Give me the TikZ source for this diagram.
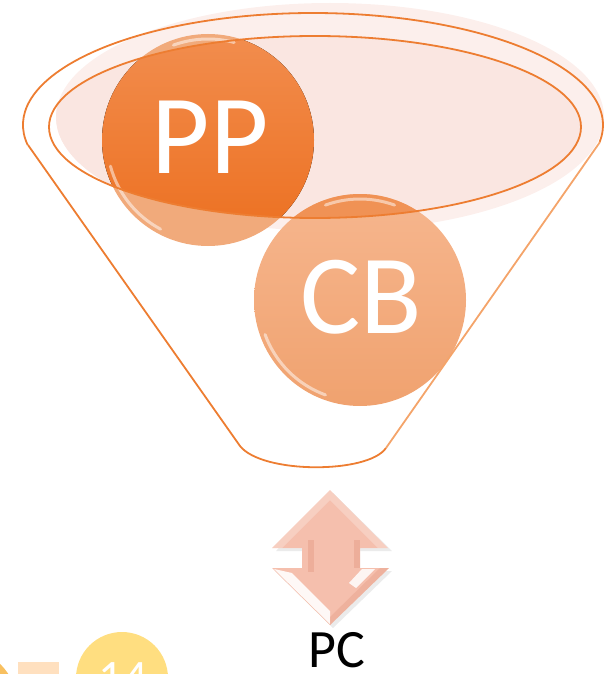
\documentclass[tikz,border=0pt]{standalone}
\usepackage{fontspec}
\setmainfont{Carlito}
\definecolor{funnel}{HTML}{ED7D31}
\definecolor{funnelLight}{HTML}{F4A46A}
\definecolor{pinkband}{HTML}{FCEFEC}
\definecolor{pinkin}{HTML}{FAE6E1}
\definecolor{ppTop}{HTML}{F28D4E}
\definecolor{ppBot}{HTML}{EC6F1F}
\definecolor{ppLight}{HTML}{F1AA7B}
\definecolor{cbTop}{HTML}{F6B68E}
\definecolor{cbBot}{HTML}{F0A26F}
\definecolor{cbIn}{HTML}{F09255}
\definecolor{arrowMain}{HTML}{F5BFAD}
\definecolor{arrowDark}{HTML}{E9A48E}
\definecolor{yel}{HTML}{FFDE80}
\definecolor{peach}{HTML}{FFE0BF}
\definecolor{gold}{HTML}{F8C060}
\begin{document}
\begin{tikzpicture}[x=1pt,y=-1pt,
  rim/.style={draw=funnel, line width=1.8pt, line join=round},
  ball/.style={circle, minimum size=212pt, inner sep=0pt},
  glint/.style={draw=white, line width=3pt, opacity=0.5, line cap=round},
  bigtext/.style={anchor=base, text=white, font=\fontsize{113}{113}\selectfont},
  midtext/.style={anchor=base, font=\fontsize{54}{54}\selectfont}]
\useasboundingbox (0,0) rectangle (606,674);

% pink glass of the funnel mouth
\fill[pinkband] (330,117) ellipse [x radius=274, y radius=114];
\begin{scope}
  \clip (315,127) ellipse [x radius=266, y radius=91];
  \fill[pinkin] (330,117) ellipse [x radius=274, y radius=114];
\end{scope}

% balls (parts seen through the funnel wall)
\node[ball, fill=ppLight] (pp) at (208,140) {};
\node[ball, top color=cbTop, bottom color=cbBot] (cb) at (360,300) {};

% balls (parts seen through the mouth)
\begin{scope}
  \clip (315,127) ellipse [x radius=266, y radius=91];
  \fill[top color=ppTop, bottom color=ppBot] (pp.center) circle[radius=106];
  \fill[cbIn] (cb.center) circle[radius=106];
\end{scope}

% glints
\draw[glint] (208,140) ++(118:101) arc[start angle=118, end angle=165, radius=101];
\draw[glint] (208,140) ++(250:101) arc[start angle=250, end angle=285, radius=101];
\draw[glint] (360,300) ++(110:101) arc[start angle=110, end angle=160, radius=101];
\draw[glint] (360,300) ++(250:101) arc[start angle=250, end angle=290, radius=101];

% funnel outline
\draw[rim] (313,125) ++(169.7:290 and 112) arc[start angle=169.7, end angle=368.7, x radius=290, y radius=112];
\draw[rim] (28,145) -- (240,446) .. controls (262,474) and (368,474) .. (386,448);
\draw[rim, draw=funnelLight] (386,448) -- (600,142);
\draw[rim] (315,127) ellipse [x radius=266, y radius=91];

% labels
\node[bigtext] (pptext) at (210,173) {PP};
\node[bigtext] (cbtext) at (361,333) {CB};

% double arrow
\fill[black, opacity=0.08]
  (333,493) -- (392,551) -- (360,551) -- (360,571) -- (392,571) -- (333,628)
  -- (275,571) -- (305,571) -- (305,551) -- (276,551) -- cycle;
\fill[arrowMain]
  (330,490) -- (388,548) -- (360,548) -- (360,568) -- (389,568) -- (330,625)
  -- (272,568) -- (302,568) -- (302,548) -- (272,548) -- cycle;
% bevels
\fill[white, opacity=0.25] (330,490) -- (388,548) -- (378,548) -- (330,500) -- (282,548) -- (272,548) -- cycle;
\fill[arrowDark, opacity=0.6] (308,540) rectangle (314,572);
\fill[arrowDark, opacity=0.6] (354,540) rectangle (360,568);
\fill[white, opacity=0.9] (274,569) -- (330,624) -- (330,611) -- (292,573) -- cycle;
\fill[white, opacity=0.85] (349,583) -- (362,569) -- (375,569) -- (356,588) -- cycle;
\fill[arrowDark, opacity=0.5] (389,568) -- (330,625) -- (330,617) -- (380,568) -- cycle;
\node[midtext] (pc) at (336.5,667) {PC};

% partially visible items at the bottom
\fill[gold] (-40,705) circle[radius=57.4];
\fill[peach] (18,662) rectangle (59,690);
\fill[yel] (122,678) circle[radius=46];
\node[anchor=base, text=white, font=\fontsize{48}{48}\selectfont] (fourteen) at (123,693) {14};
\end{tikzpicture}
\end{document}
